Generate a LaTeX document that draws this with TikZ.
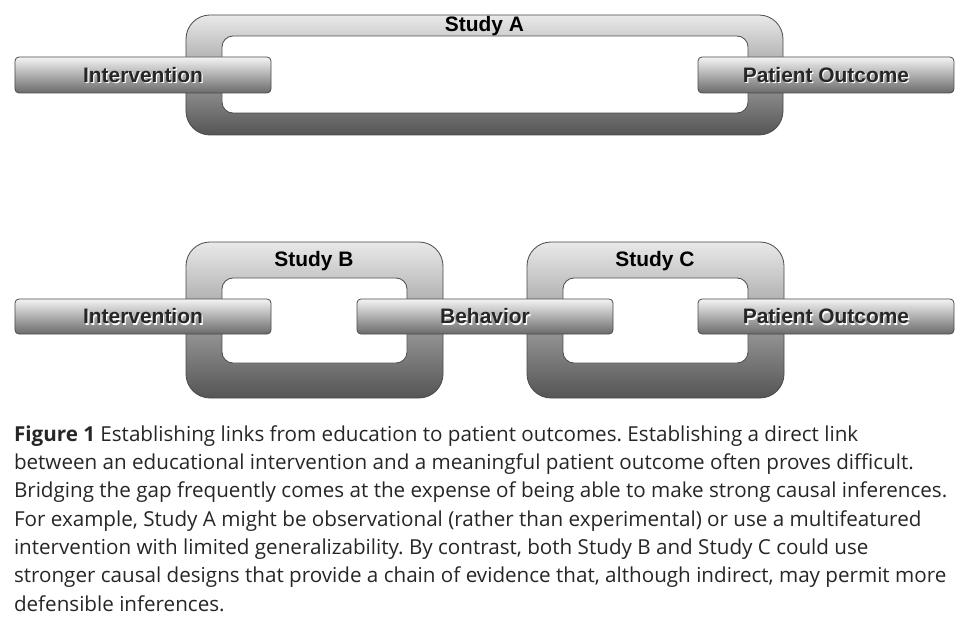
\documentclass[tikz,border=0pt]{standalone}
\usepackage{fontspec}
\setmainfont{Liberation Sans}
\newfontfamily\capfont{Open Sans}
\usepackage{tikz}
\definecolor{ringtop}{HTML}{E9E9E9}
\definecolor{ringbot}{HTML}{555555}
\definecolor{bartop}{HTML}{F4F4F4}
\definecolor{barbot}{HTML}{6A6A6A}
\definecolor{edgegray}{HTML}{4A4A4A}
\definecolor{labelgray}{HTML}{262626}
\newcommand{\emboss}[1]{\makebox[0pt][l]{\kern1.2pt\raisebox{-1.2pt}[0pt][0pt]{\color{white}#1}}#1}
\frenchspacing

\begin{document}
\begin{tikzpicture}[x=1bp, y=-1bp, line width=0.8bp,
    every node/.style={inner sep=0pt, outer sep=0pt},
    ring/.style={draw=edgegray, top color=ringtop, bottom color=ringbot, rounded corners=24bp},
    hole/.style={draw=edgegray, fill=white, rounded corners=11bp},
    bar/.style={draw=edgegray, top color=bartop, bottom color=barbot, rounded corners=4bp,
        minimum width=256bp, font=\fontsize{21}{24}\selectfont\bfseries, text=labelgray},
    studylabel/.style={anchor=base, font=\fontsize{21}{24}\selectfont\bfseries, text=black}]
    \useasboundingbox (0,0) rectangle (965,621);

    % Study A - one long link
    \node[ring, minimum width=597bp, minimum height=120bp] (ringA) at (484.5,75) {};
    \node[hole, minimum width=526bp, minimum height=77bp] (holeA) at (485,74.5) {};
    \node[studylabel] (studyA) at (484.5,32) {Study A};
    \node[bar, minimum height=36bp] (intA) at (143,75) {\emboss{Intervention}};
    \node[bar, minimum height=36bp] (outA) at (826,75) {\emboss{Patient Outcome}};

    % Study B and Study C - chain of two links
    \node[ring, minimum width=257bp, minimum height=156bp] (ringB) at (314.5,320) {};
    \node[hole, minimum width=185bp, minimum height=85bp] (holeB) at (314.5,320.5) {};
    \node[studylabel] (studyB) at (314,267) {Study B};
    \node[ring, minimum width=257bp, minimum height=156bp] (ringC) at (655.5,320) {};
    \node[hole, minimum width=185bp, minimum height=85bp] (holeC) at (655.5,320.5) {};
    \node[studylabel] (studyC) at (655,267) {Study C};

    \node[bar, minimum height=35bp] (intB) at (143,316.5) {\emboss{Intervention}};
    \node[bar, minimum height=35bp] (beh) at (485,316.5) {\emboss{Behavior}};
    \node[bar, minimum height=35bp] (outC) at (826,316.5) {\emboss{Patient Outcome}};

    % Caption
    \node[anchor=north west, align=left, text=labelgray,
        font=\capfont\fontsize{20.7}{28.4}\selectfont] (caption) at (14,425.5)
        {\textbf{Figure 1} Establishing links from education to patient outcomes. Establishing a direct link\\
        between an educational intervention and a meaningful patient outcome often proves difficult.\\
        Bridging the gap frequently comes at the expense of being able to make strong causal inferences.\\
        For example, Study A might be observational (rather than experimental) or use a multifeatured\\
        intervention with limited generalizability. By contrast, both Study B and Study C could use\\
        stronger causal designs that provide a chain of evidence that, although indirect, may permit more\\
        defensible inferences.};
\end{tikzpicture}
\end{document}
